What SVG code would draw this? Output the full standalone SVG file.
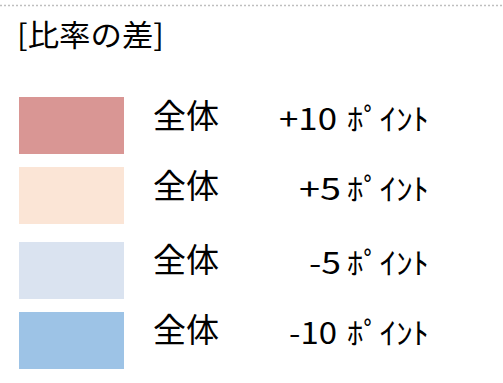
<svg xmlns="http://www.w3.org/2000/svg" width="503" height="383" viewBox="0 0 503 383">
<style>
text{font-family:"Noto Sans CJK JP","Noto Sans",sans-serif;fill:#000;}
.lbl{font-size:33px;}
.num{font-size:30px;}
.kana{font-size:30px;}
</style>
<rect width="503" height="383" fill="#fff"/>
<line x1="0" y1="5.5" x2="503" y2="5.5" stroke="#bfbfbf" stroke-width="1.3" stroke-dasharray="2,2"/>
<text x="17" y="46" font-size="30" textLength="147" lengthAdjust="spacingAndGlyphs">[比率の差]</text>
<g id="item1">
<rect x="19" y="97" width="105" height="57" fill="#d99694"/>
<text class="lbl" x="153" y="128">全体</text>
<text class="num" x="279" y="130" textLength="58" lengthAdjust="spacingAndGlyphs">+10</text>
<text class="kana" x="347" y="130" textLength="82" lengthAdjust="spacingAndGlyphs">ﾎﾟｲﾝﾄ</text>
</g>
<g id="item2">
<rect x="19" y="167" width="105" height="57" fill="#fbe5d6"/>
<text class="lbl" x="153" y="198">全体</text>
<text class="num" x="299" y="200" textLength="42" lengthAdjust="spacingAndGlyphs">+5</text>
<text class="kana" x="347" y="200" textLength="82" lengthAdjust="spacingAndGlyphs">ﾎﾟｲﾝﾄ</text>
</g>
<g id="item3">
<rect x="19" y="242" width="105" height="57" fill="#dae3f0"/>
<text class="lbl" x="153" y="272">全体</text>
<text class="num" x="309" y="274" textLength="32" lengthAdjust="spacingAndGlyphs">-5</text>
<text class="kana" x="347" y="274" textLength="82" lengthAdjust="spacingAndGlyphs">ﾎﾟｲﾝﾄ</text>
</g>
<g id="item4">
<rect x="19" y="312" width="105" height="57" fill="#9dc3e6"/>
<text class="lbl" x="153" y="342">全体</text>
<text class="num" x="289" y="344" textLength="48" lengthAdjust="spacingAndGlyphs">-10</text>
<text class="kana" x="347" y="344" textLength="82" lengthAdjust="spacingAndGlyphs">ﾎﾟｲﾝﾄ</text>
</g>
</svg>
